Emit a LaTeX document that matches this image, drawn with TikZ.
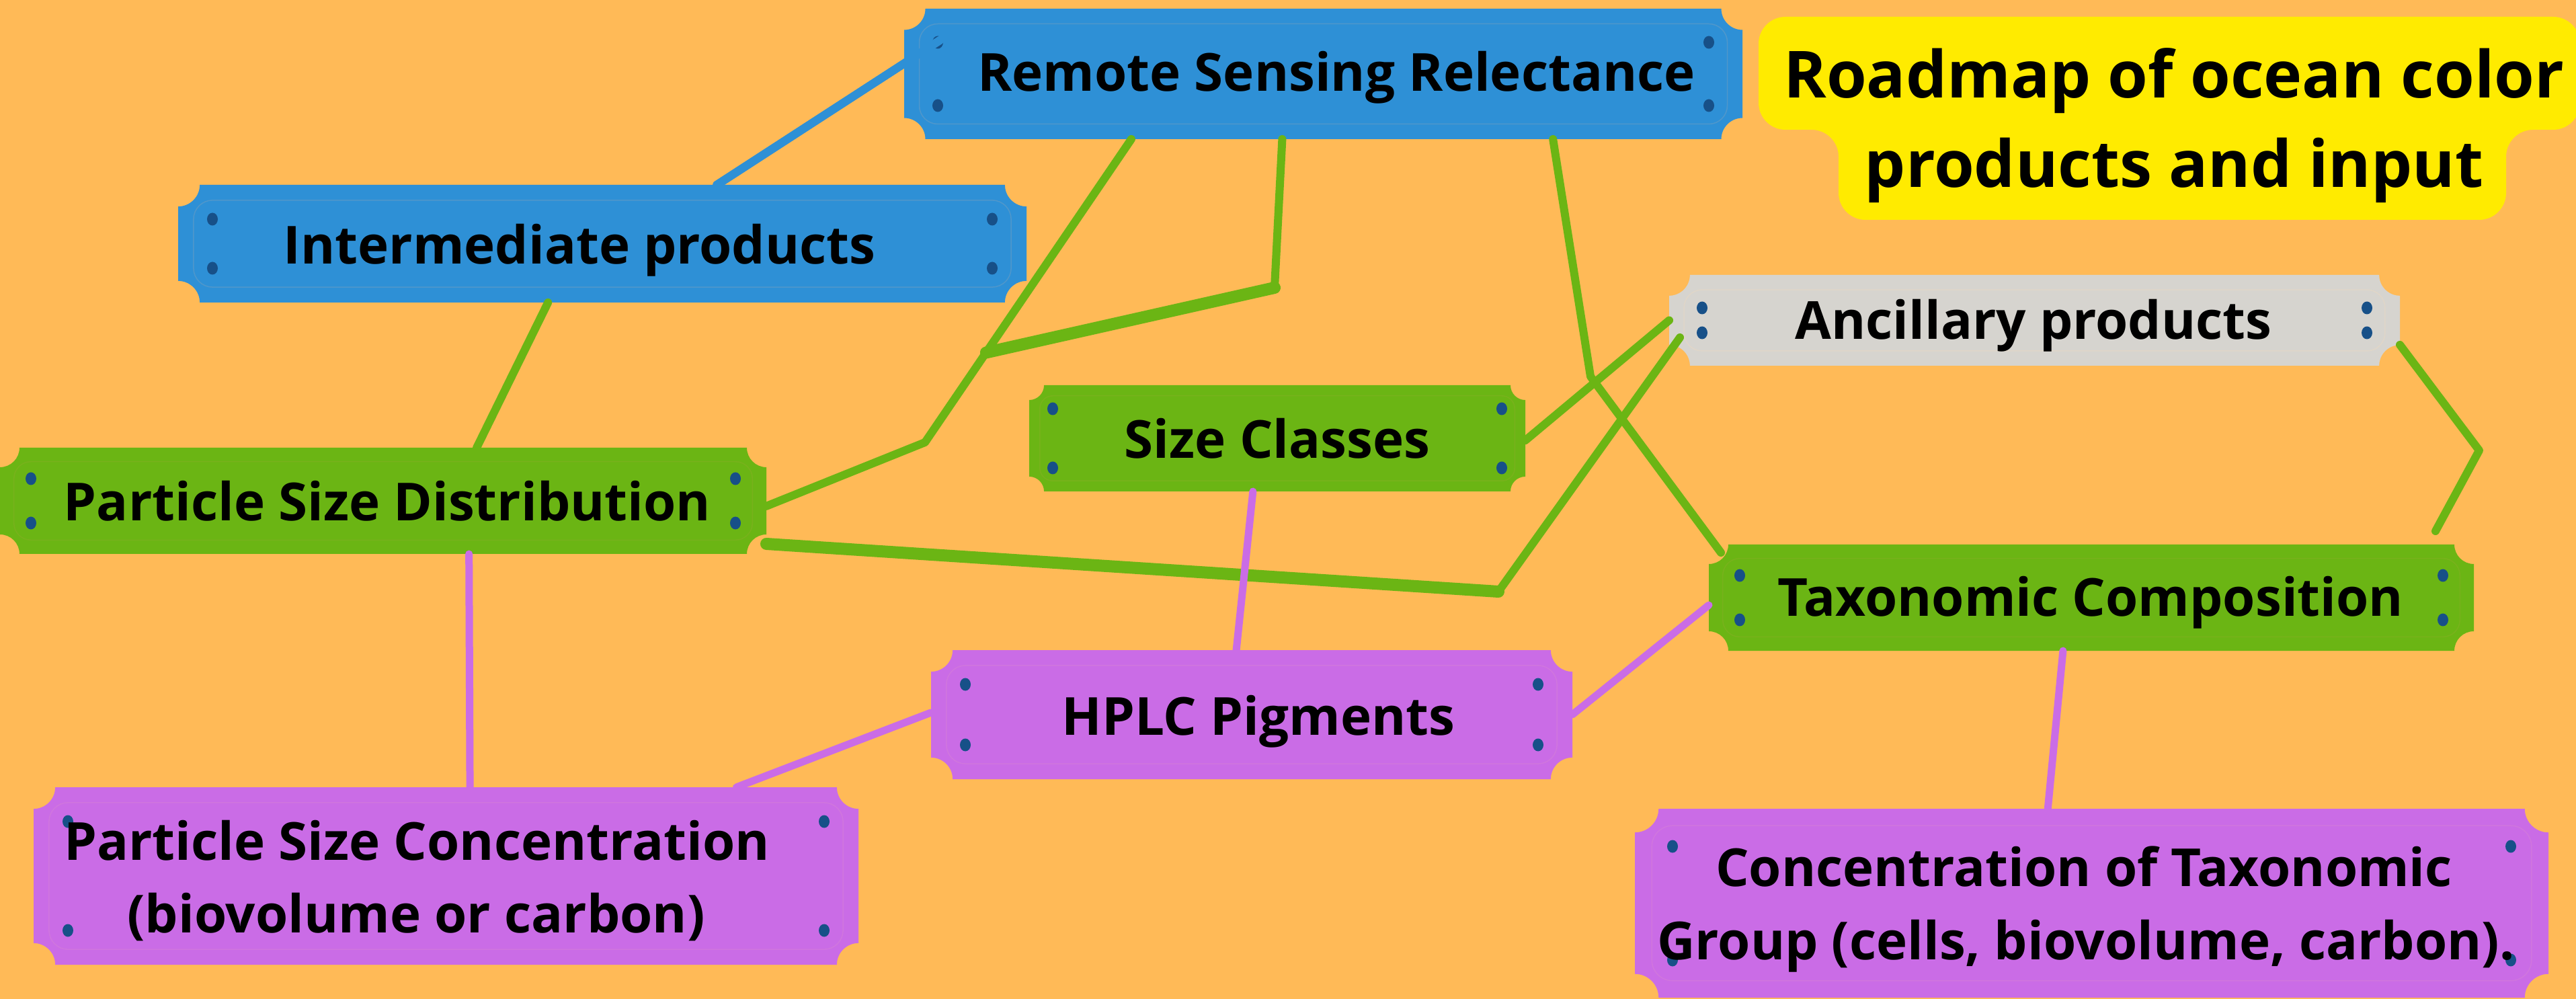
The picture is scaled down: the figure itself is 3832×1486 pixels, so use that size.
\documentclass[tikz,border=0pt]{standalone}
\usepackage{fontspec}
\setmainfont{Open Sans}
\usetikzlibrary{calc}
\definecolor{bgc}{HTML}{FFBA57}
\definecolor{blu}{HTML}{2E90D6}
\definecolor{bluin}{HTML}{4F97CB}
\definecolor{grn}{HTML}{6BB514}
\definecolor{grnin}{HTML}{78B21C}
\definecolor{pur}{HTML}{CA6CE6}
\definecolor{purin}{HTML}{D076DE}
\definecolor{gry}{HTML}{D6D4CF}
\definecolor{gryin}{HTML}{E0D6C8}
\definecolor{ylw}{HTML}{FFEB00}
\definecolor{dotc}{HTML}{175088}
\newcommand\plaque[7]{%
  \pgfmathsetmacro\pr{0.63*#6}%
  \pgfmathsetmacro\pk{0.552*\pr}%
  \pgfmathsetmacro\pin{0.45*#6}%
  \pgfmathsetmacro\pir{0.055*#6}%
  \fill[#7] ({#2+\pr},#3) -- ({#4-\pr},#3)
    .. controls ({#4-\pr},{#3+\pk}) and ({#4-\pk},{#3+\pr}) .. (#4,{#3+\pr})
    -- (#4,{#5-\pr})
    .. controls ({#4-\pk},{#5-\pr}) and ({#4-\pr},{#5-\pk}) .. ({#4-\pr},#5)
    -- ({#2+\pr},#5)
    .. controls ({#2+\pr},{#5-\pk}) and ({#2+\pk},{#5-\pr}) .. (#2,{#5-\pr})
    -- (#2,{#3+\pr})
    .. controls ({#2+\pk},{#3+\pr}) and ({#2+\pr},{#3+\pk}) .. cycle;
  \draw[#7in, line width=0.15mm, rounded corners=\pir mm]
    ({#2+\pin},{#3+\pin}) rectangle ({#4-\pin},{#5-\pin});
  \foreach \dx/\dy in {{#2+#6}/{#3+#6},{#4-#6}/{#3+#6},{#2+#6}/{#5-#6},{#4-#6}/{#5-#6}}
    \fill[dotc] (\dx,\dy) ellipse [x radius=0.8mm, y radius=0.95mm];
  \node[inner sep=0, outer sep=0, minimum width={(#4-#2)*0.1mm},
        minimum height={(#5-#3)*0.1mm}] (#1) at ({(#2+#4)/2},{(#3+#5)/2}) {};
}
\begin{document}
\begin{tikzpicture}[x=0.1mm,y=-0.1mm,
  gline/.style={draw=grn, line width=1.2mm, line cap=round, line join=round},
  gthick/.style={draw=grn, line width=1.8mm, line cap=round},
  pline/.style={draw=pur, line width=1.1mm, line cap=round},
  bline/.style={draw=blu, line width=1.25mm, line cap=round},
  lbl/.style={font=\bfseries\fontsize{22.2}{26}\selectfont, inner sep=0, anchor=base, text=black},
  ttl/.style={font=\bfseries\fontsize{27.5}{33}\selectfont, inner sep=0, anchor=base, text=black}]
\useasboundingbox (0,0) rectangle (3832,1486);
\fill[bgc] (0,0) rectangle (3832,1486);
% title
\fill[ylw] (2656,25) -- (3798,25) .. controls (3820,25) and (3838,43) .. (3838,65)
  -- (3838,153) .. controls (3838,175) and (3820,193) .. (3798,193)
  -- (3768,193) .. controls (3746,193) and (3728,211) .. (3728,233)
  -- (3728,287) .. controls (3728,309) and (3710,327) .. (3688,327)
  -- (2775,327) .. controls (2753,327) and (2735,309) .. (2735,287)
  -- (2735,233) .. controls (2735,211) and (2717,193) .. (2695,193)
  -- (2656,193) .. controls (2634,193) and (2616,175) .. (2616,153)
  -- (2616,65) .. controls (2616,43) and (2634,25) .. (2656,25) -- cycle;
\node[ttl] (title1) at (3234,146) {Roadmap of ocean color};
\node[ttl] (title2) at (3234,279) {products and input};
% plaques
\plaque{remote}{1345}{13}{2592}{207}{50}{blu}
\plaque{inter}{265}{275}{1527}{450}{51}{blu}
\plaque{psd}{0}{666}{1140}{824}{46}{grn}
\plaque{size}{1531}{573}{2269}{731}{35}{grn}
\plaque{anc}{2483}{409}{3570}{544}{49}{gry}
\plaque{tax}{2542}{810}{3680}{968}{46}{grn}
\plaque{hplc}{1385}{967}{2339}{1159}{51}{pur}
\plaque{psc}{50}{1171}{1277}{1435}{51}{pur}
\plaque{conc}{2432}{1203}{3791}{1484}{56}{pur}
% bend points
\coordinate (b1) at (1376,658);
\coordinate (b2) at (1896,428);
\coordinate (b4) at (2366,560);
\coordinate (b5) at (2229,880);
\coordinate (b6) at (3688,670);
\coordinate (e1) at (3623,790);
% green connectors
\draw[gline] ($(remote.south west)!0.271!(remote.south east)$) coordinate (r1) -- (b1)
  -- ($(psd.north east)!0.55!(psd.south east)$);
\draw[gthick] (b2) -- ($(r1)!0.704!(b1)$);
\draw[gline] ($(remote.south west)!0.451!(remote.south east)$) -- (b2);
\draw[gline] ($(remote.south west)!0.774!(remote.south east)$) -- (b4)
  -- ($(tax.north west)+(18,12)$);
\draw[gline] ($(size.north east)!0.52!(size.south east)$) -- ($(anc.north west)!0.5!(anc.south west)$);
\draw[gthick] ($(psd.north east)!0.905!(psd.south east)$) -- (b5);
\draw[gline] (b5) -- ($(anc.north west)+(16,93)$);
\draw[gline] ($(anc.north east)!0.77!(anc.south east)$) -- (b6) -- (e1);
\draw[gline] ($(inter.south west)!0.436!(inter.south east)$) -- ($(psd.north west)!0.622!(psd.north east)$);
% purple connectors
\draw[pline] ($(size.south west)!0.451!(size.south east)$) -- ($(hplc.north west)!0.476!(hplc.north east)$);
\draw[pline] ($(psd.south west)!0.612!(psd.south east)$) -- ($(psc.north west)!0.529!(psc.north east)$);
\draw[pline] ($(hplc.north west)!0.484!(hplc.south west)$) -- ($(psc.north west)!0.852!(psc.north east)$);
\draw[pline] ($(hplc.north east)!0.5!(hplc.south east)$) -- ($(tax.north west)!0.57!(tax.south west)$);
\draw[pline] ($(tax.south west)!0.463!(tax.south east)$) -- ($(conc.north west)!0.452!(conc.north east)$);
% blue connector
\draw[bline] ($(inter.north west)!0.635!(inter.north east)$) -- ($(remote.north west)+(53,47)$);
% labels
\node[lbl] (remote-t) at (1988,136) {Remote Sensing Relectance};
\node[lbl] (inter-t) at (862,393) {Intermediate products};
\node[lbl] (psd-t) at (576,775) {Particle Size Distribution};
\node[lbl] (size-t) at (1900,682) {Size Classes};
\node[lbl] (anc-t) at (3025,505) {Ancillary products};
\node[lbl] (tax-t) at (3110,917) {Taxonomic Composition};
\node[lbl] (hplc-t) at (1872,1093) {HPLC Pigments};
\node[lbl] (psc-t1) at (620,1279) {Particle Size Concentration};
\node[lbl] (psc-t2) at (619,1387) {(biovolume or carbon)};
\node[lbl] (conc-t1) at (3100,1318) {Concentration of Taxonomic};
\node[lbl] (conc-t2) at (3103,1427) {Group (cells, biovolume, carbon).};
\end{tikzpicture}
\end{document}
